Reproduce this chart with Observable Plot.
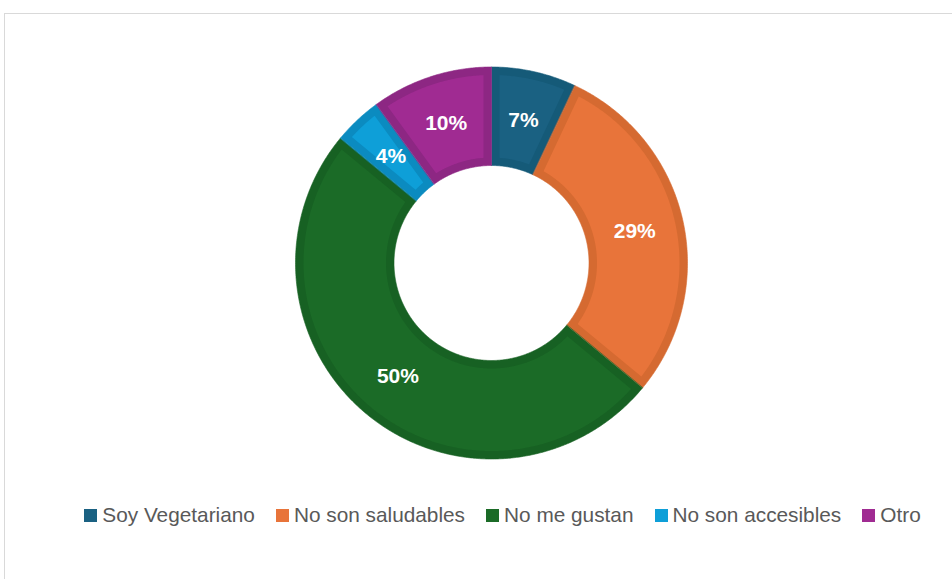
<!DOCTYPE html>
<html>
<head>
<meta charset="utf-8">
<script src="https://cdn.jsdelivr.net/npm/d3@7"></script>
<script src="https://cdn.jsdelivr.net/npm/@observablehq/plot@0.6"></script>
<style>
  html, body { margin: 0; padding: 0; background: #fff; overflow: hidden; width: 952px; height: 579px; }
  #frame { position: absolute; left: 4px; top: 13px; width: 1200px; height: 1200px; border: 1px solid #d9d9d9; box-sizing: border-box; }
  #wrap { position: relative; width: 952px; }
  #chart svg { display: block; }
  #legend { padding-left: 53px; margin-top: 13px; }
  #legend .lg-swatches { font-family: "Liberation Sans", Arial, sans-serif; font-size: 20.8px; color: #595959; justify-content: center; min-height: 24px; margin: 0; }
  #legend .lg-swatch { margin-right: 21px; }
  #legend .lg-swatch:last-child { margin-right: 0; }
  #legend .lg-swatch > svg { margin-right: 5px; }
</style>
</head>
<body>
<div id="frame"></div>
<div id="wrap">
  <div id="chart"></div>
  <div id="legend"></div>
</div>
<script>
const categories = ["Soy Vegetariano", "No son saludables", "No me gustan", "No son accesibles", "Otro"];
const values = [7, 29, 50, 4, 10];
const labels = ["7%", "29%", "50%", "4%", "10%"];
const fillColors = ["#1a6182", "#e8743a", "#1b6b27", "#0e9fd8", "#a02b92"];
const bandColors = ["#155a78", "#d56a31", "#176123", "#0b8bc0", "#8d2783"];

const W = 952, H = 490, cx = 491, cy = 262.5;
const R = 196, r = 97.5, band = 8;

const total = d3.sum(values);
let acc = 0;
const slices = categories.map((c, i) => {
  const a0 = acc / total * 2 * Math.PI;
  acc += values[i];
  const a1 = acc / total * 2 * Math.PI;
  return {cat: c, value: values[i], label: labels[i], a0, a1, i};
});

function arcPts(rad, from, to) {
  const n = Math.max(2, Math.ceil(Math.abs(to - from) / (Math.PI / 360)));
  return d3.range(n + 1).map(k => {
    const a = from + (to - from) * k / n;
    return [rad * Math.sin(a), rad * Math.cos(a)];
  });
}
function ring(s, inset) {
  const ro = R - inset, ri = r + inset;
  const dOut = inset ? Math.asin(inset / ro) : 0;
  const dIn = inset ? Math.asin(inset / ri) : 0;
  const pts = arcPts(ro, s.a0 + dOut, s.a1 - dOut).concat(arcPts(ri, s.a1 - dIn, s.a0 + dIn));
  return pts.map(([x, y]) => ({x, y, cat: s.cat}));
}

const marks = [];
slices.forEach(s => {
  marks.push(Plot.line(ring(s, 0), {x: "x", y: "y", fill: bandColors[s.i], stroke: bandColors[s.i], strokeWidth: 0.6, curve: "linear-closed"}));
});
slices.forEach(s => {
  marks.push(Plot.line(ring(s, band), {x: "x", y: "y", fill: fillColors[s.i], stroke: "none", curve: "linear-closed"}));
});
const mid = (R + r) / 2;
marks.push(Plot.text(slices, {
  x: s => mid * Math.sin((s.a0 + s.a1) / 2),
  y: s => mid * Math.cos((s.a0 + s.a1) / 2),
  text: "label",
  fill: "white",
  fontSize: 21,
  fontWeight: "bold",
  fontFamily: "Liberation Sans, Arial, sans-serif",
  textAnchor: "middle",
  lineAnchor: "middle"
}));

const chart = Plot.plot({
  width: W,
  height: H,
  margin: 0,
  x: {domain: [-cx, W - cx], range: [0, W], axis: null},
  y: {domain: [-(H - cy), cy], range: [H, 0], axis: null},
  style: {background: "transparent", overflow: "visible"},
  marks
});
document.getElementById("chart").appendChild(chart);

const legend = Plot.legend({
  color: {domain: categories, range: fillColors},
  legend: "swatches",
  swatchSize: 13,
  className: "lg"
});
document.getElementById("legend").appendChild(legend);
</script>
</body>
</html>
